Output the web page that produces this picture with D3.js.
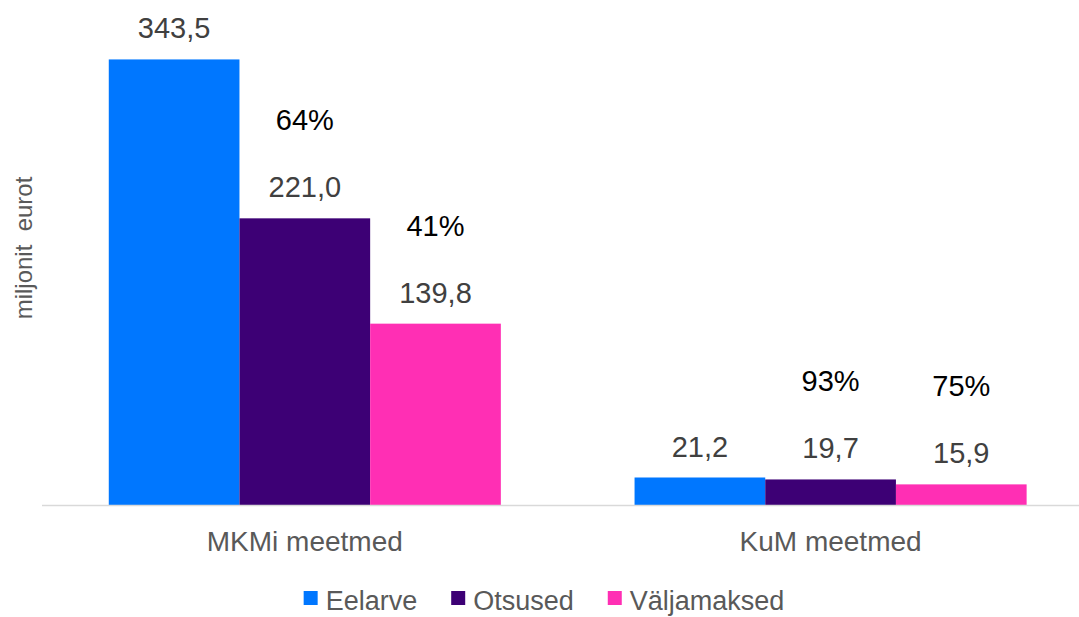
<!DOCTYPE html>
<html>
<head>
<meta charset="utf-8">
<script src="https://cdn.jsdelivr.net/npm/d3@7"></script>
<style>
  html, body { margin: 0; padding: 0; background: #fff; }
  svg { display: block; font-family: "Liberation Sans", Arial, sans-serif; }
</style>
</head>
<body>
<svg id="svg" width="1079" height="617"></svg>
<script>
// andmed
const categories = ["MKMi meetmed", "KuM meetmed"];
const seriesNames = ["Eelarve", "Otsused", "Väljamaksed"];
const seriesColors = ["#0077ff", "#3d0075", "#ff2fb4"];
const values = [
  [343.5, 221.0, 139.8],   // MKMi meetmed
  [21.2, 19.7, 15.9]       // KuM meetmed
];
// protsendid: [kategooria, seeria, tekst]
const pctLabels = [
  [0, 1, "64%"], [0, 2, "41%"],
  [1, 1, "93%"], [1, 2, "75%"]
];
const yTitle = "miljonit  eurot";

const W = 1079, H = 617;
const baseY = 505;
const fmt = v => d3.format(".1f")(v).replace(".", ",");

const svg = d3.select("#svg");
const g = svg.append("g");

const x0 = d3.scaleBand().domain(categories).range([42, 1093.4])
  .paddingInner(0.2543).paddingOuter(0.127);
const x1 = d3.scaleBand().domain(seriesNames).range([0, x0.bandwidth()]);
const y = d3.scaleLinear().domain([0, 350]).range([baseY, 51]);

// tulbad
categories.forEach((c, ci) => {
  const grp = g.append("g").attr("transform", `translate(${x0(c)},0)`);
  seriesNames.forEach((s, si) => {
    const v = values[ci][si];
    grp.append("rect")
      .attr("x", x1(s)).attr("y", y(v))
      .attr("width", x1.bandwidth()).attr("height", y(0) - y(v))
      .attr("fill", seriesColors[si]);
    grp.append("text")
      .attr("x", x1(s) + x1.bandwidth() / 2).attr("y", y(v) - 21)
      .attr("text-anchor", "middle")
      .attr("font-size", 29).attr("fill", "#404040")
      .text(fmt(v));
  });
});

// protsendisildid
pctLabels.forEach(([ci, si, t]) => {
  const v = values[ci][si];
  g.append("text")
    .attr("x", x0(categories[ci]) + x1(seriesNames[si]) + x1.bandwidth() / 2)
    .attr("y", y(v) - 88)
    .attr("text-anchor", "middle")
    .attr("font-size", 29).attr("fill", "#000")
    .text(t);
});

// x-telg
g.append("line")
  .attr("x1", 42).attr("x2", W)
  .attr("y1", baseY + 0.5).attr("y2", baseY + 0.5)
  .attr("stroke", "#d9d9d9").attr("stroke-width", 1.5);

categories.forEach(c => {
  g.append("text")
    .attr("x", x0(c) + x0.bandwidth() / 2).attr("y", 551)
    .attr("text-anchor", "middle")
    .attr("font-size", 28).attr("fill", "#595959")
    .text(c);
});

// y-telje pealkiri
g.append("text")
  .attr("transform", "translate(32,248) rotate(-90)")
  .attr("text-anchor", "middle")
  .attr("font-size", 24).attr("fill", "#595959")
  .style("white-space", "pre")
  .text(yTitle);

// legend
const leg = g.append("g");
let lx = 0;
seriesNames.forEach((s, i) => {
  const item = leg.append("g").attr("transform", `translate(${lx},0)`);
  item.append("rect")
    .attr("x", 0).attr("y", 591).attr("width", 14).attr("height", 14)
    .attr("fill", seriesColors[i]);
  const t = item.append("text")
    .attr("x", 22).attr("y", 610)
    .attr("font-size", 27).attr("fill", "#595959")
    .text(s);
  lx += 22 + t.node().getComputedTextLength() + 34;
});
const legW = lx - 34;
leg.attr("transform", `translate(${544 - legW / 2},0)`);
</script>
</body>
</html>
